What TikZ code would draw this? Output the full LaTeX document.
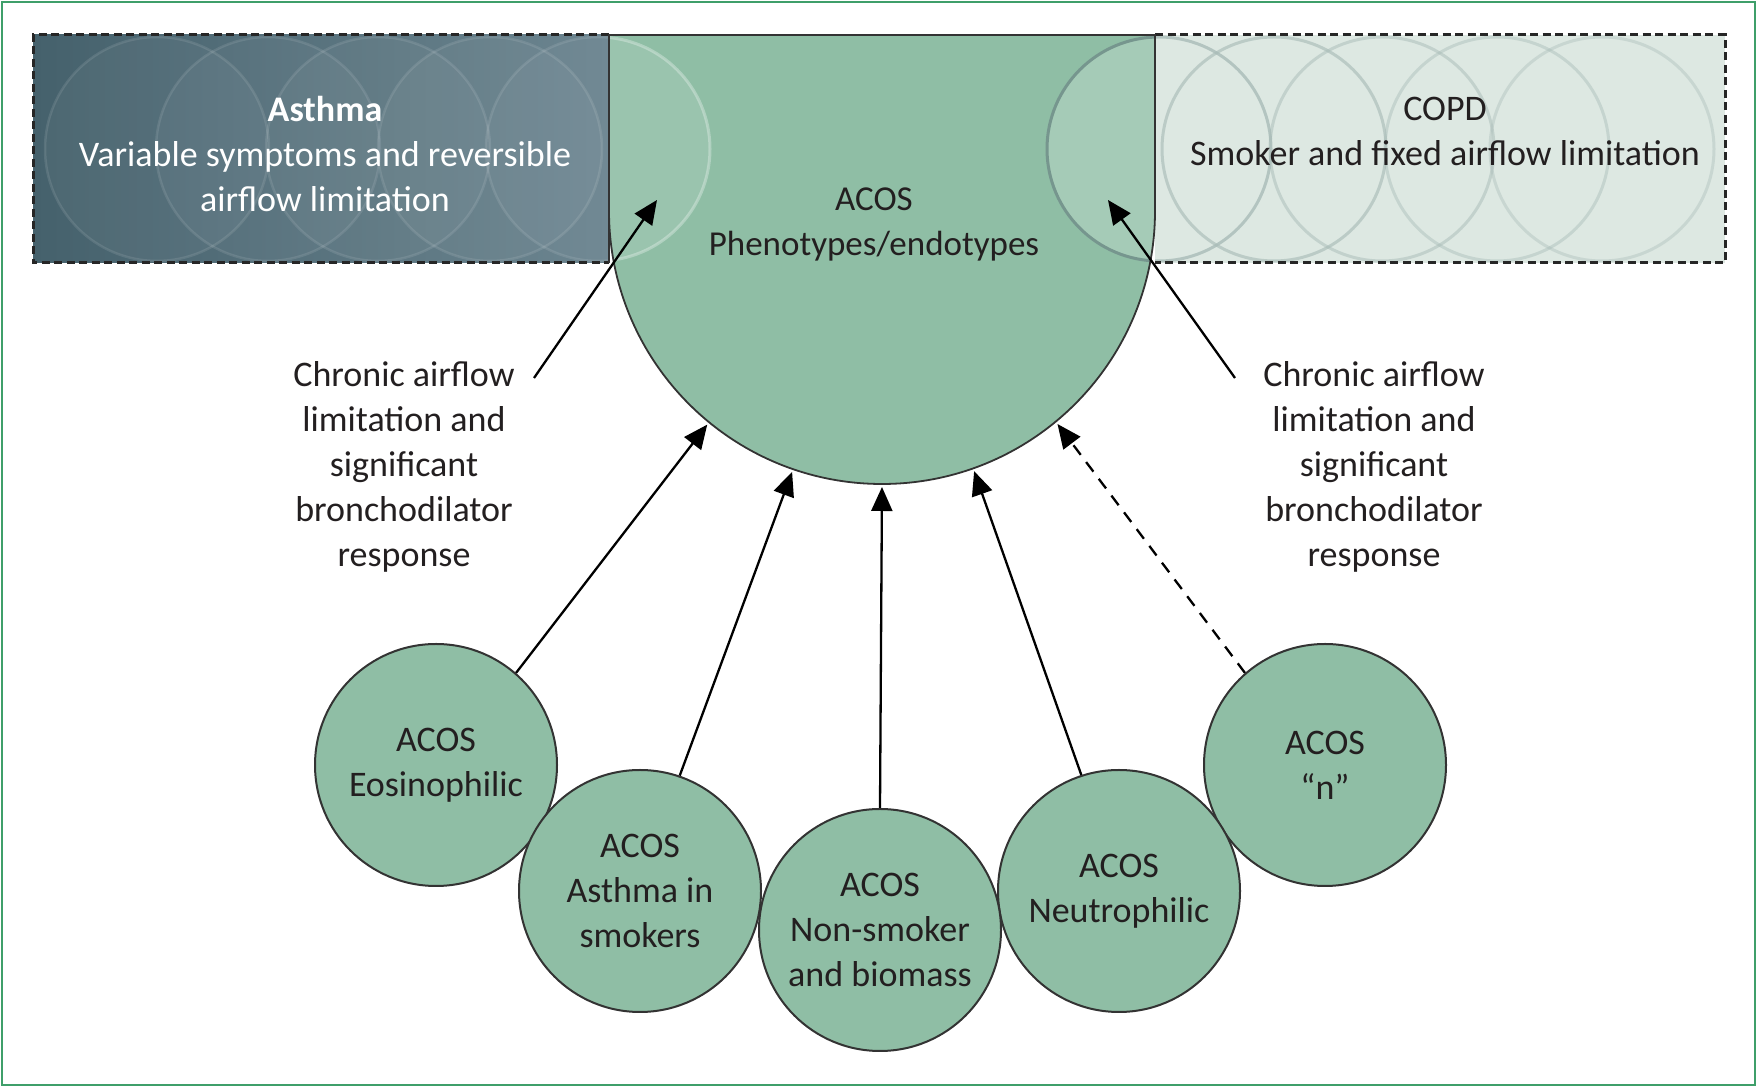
\documentclass[tikz,border=0pt]{standalone}
\usepackage{fontspec}
\setmainfont{Carlito}
\usetikzlibrary{arrows.meta}
\definecolor{acosg}{HTML}{8FBEA5}
\definecolor{asthmad}{HTML}{45616C}
\definecolor{asthmal}{HTML}{6C8590}
\definecolor{copdf}{HTML}{DDE8E2}
\definecolor{copdc}{HTML}{A9BCB8}
\definecolor{acosring}{HTML}{76968E}
\definecolor{framegreen}{HTML}{3F9F6A}
\definecolor{txt}{HTML}{231F20}
\definecolor{edge}{HTML}{333333}
\begin{document}
\begin{tikzpicture}[x=1pt,y=1pt,
  bigtxt/.style={font=\fontsize{36}{45}\selectfont, align=center, text=txt, inner sep=0pt},
  phen/.style={circle, draw=edge, line width=2pt, fill=acosg, minimum size=242pt, inner sep=0pt,
     font=\fontsize{36}{45}\selectfont, align=center, text=txt},
  conn/.style={line width=2.3pt, -{Triangle[length=24pt,width=21pt]}, shorten >=2pt},
  dbox/.style={draw=black!85, line width=3pt, dash pattern=on 8pt off 4.5pt}
]
\useasboundingbox (0,0) rectangle (1757,1087);
\draw[framegreen, line width=2pt] (2,2) rectangle (1755,1085);

% Asthma box
\shade[left color=asthmad, right color=asthmal] (33,824) rectangle (609,1052);
\begin{scope}
  \clip (33,824) rectangle (609,1052);
  \foreach \cx in {157,268,378,490,598} {
    \fill[white, opacity=0.04] (\cx,938) circle (112);
    \draw[white, opacity=0.1, line width=2.5pt] (\cx,938) circle (112);
  }
\end{scope}
\draw[dbox] (609,1052) -- (33,1052) -- (33,824) -- (609,824);

% COPD box
\fill[copdf] (1155,824) rectangle (1725,1052);
\begin{scope}
  \clip (1155,824) rectangle (1725,1052);
  \foreach \cx/\op in {1159/0.8,1274/0.65,1382/0.5,1497/0.45,1602/0.4} {
    \draw[copdc, opacity=\op, line width=3pt] (\cx,938) circle (112);
  }
\end{scope}
\draw[dbox] (1155,1052) -- (1725,1052) -- (1725,824) -- (1155,824);

% ACOS shape
\coordinate (ac) at (882,876);
\fill[acosg] (609,1052) -- (1155,1052) -- (1155,876) arc[start angle=0, end angle=-180, radius=273] -- cycle;
\begin{scope}
  \clip (609,1052) -- (1155,1052) -- (1155,876) arc[start angle=0, end angle=-180, radius=273] -- cycle;
  \fill[white, opacity=0.1] (598,938) circle (112);
  \draw[white, opacity=0.3, line width=3pt] (598,938) circle (112);
  \fill[white, opacity=0.2] (1159,938) circle (112);
  \draw[acosring, line width=3pt] (1159,938) circle (112);
\end{scope}
\draw[edge, line width=1.8pt] (609,824) -- (609,1052) -- (1155,1052) -- (1155,876) arc[start angle=0, end angle=-180, radius=273] -- cycle;

% texts in boxes
\node[bigtxt, text=white] (asthma) at (325,933) {\textbf{Asthma}\\Variable symptoms and reversible\\airflow limitation};
\node[bigtxt] (copd) at (1445,956) {COPD\\Smoker and fixed airflow limitation};
\node[bigtxt, font=\fontsize{35}{45}\selectfont] (acos) at (874,863) {ACOS\\Phenotypes/endotypes};

% side labels
\node[bigtxt] (labL) at (404,620) {Chronic airflow\\limitation and\\significant\\bronchodilator\\response};
\node[bigtxt] (labR) at (1374,620) {Chronic airflow\\limitation and\\significant\\bronchodilator\\response};

\coordinate (lstart) at (534,709);
\coordinate (ltip) at (657,887);
\coordinate (rstart) at (1235,709);
\coordinate (rtip) at (1108,887);
\draw[conn, shorten >=0pt] (lstart) -- (ltip);
\draw[conn, shorten >=0pt] (rstart) -- (rtip);

% phenotype circles
\node[phen] (c1) at (436,322) {ACOS\\Eosinophilic};
\node[phen] (c2) at (640,196) {ACOS\\Asthma in\\smokers};
\node[phen] (c5) at (1325,322) {ACOS\\“n”};
\node[phen] (c4) at (1119,196) {ACOS\\Neutrophilic};
\node[phen] (c3) at (880,157) {ACOS\\Non-smoker\\and biomass};

\coordinate (t1) at ([shift={(230.7:274)}]ac);
\coordinate (t2) at ([shift={(251:274)}]ac);
\coordinate (t3) at ([shift={(270:274)}]ac);
\coordinate (t4) at ([shift={(289.5:274)}]ac);
\coordinate (t5) at ([shift={(309.5:274)}]ac);

\draw[conn] (c1.49) -- (t1);
\draw[conn] (c2.71) -- (t2);
\draw[conn] (c3.90) -- (t3);
\draw[conn] (c4.108) -- (t4);
\draw[conn, dash pattern=on 12pt off 9pt] (c5.131) -- (t5);
\end{tikzpicture}
\end{document}
